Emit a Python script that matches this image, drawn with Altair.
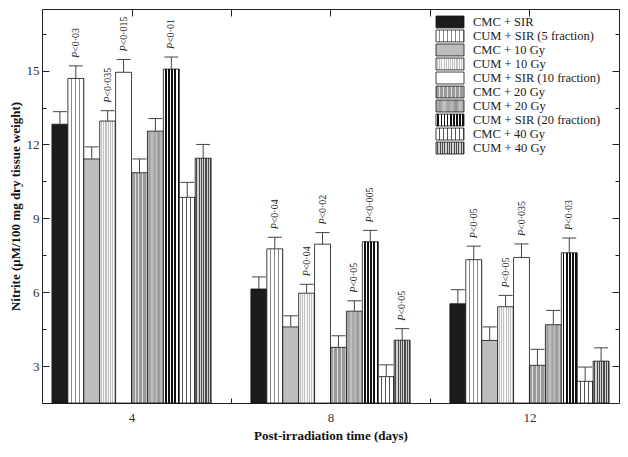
import altair as alt
import pandas as pd

SERIF = "Liberation Serif"

series = ["CMC + SIR", "CUM + SIR (5 fraction)", "CMC + 10 Gy", "CUM + 10 Gy",
          "CUM + SIR (10 fraction)", "CMC + 20 Gy", "CUM + 20 Gy",
          "CUM + SIR (20 fraction)", "CMC + 40 Gy", "CUM + 40 Gy"]
days = [4, 8, 12]

mean_d4 = [12.82, 14.68, 11.41, 12.95, 14.93, 10.85, 12.54, 15.06, 9.85, 11.44]
mean_d8 = [6.13, 7.76, 4.59, 5.96, 7.95, 3.76, 5.23, 8.05, 2.57, 4.05]
mean_d12 = [5.53, 7.32, 4.04, 5.41, 7.41, 3.03, 4.68, 7.60, 2.38, 3.20]

err_d4 = [0.51, 0.51, 0.49, 0.42, 0.52, 0.56, 0.51, 0.49, 0.61, 0.56]
err_d8 = [0.49, 0.47, 0.45, 0.36, 0.47, 0.47, 0.42, 0.46, 0.48, 0.47]
err_d12 = [0.57, 0.55, 0.55, 0.46, 0.55, 0.65, 0.58, 0.60, 0.58, 0.54]

p_d4 = ["", "<0·03", "", "<0·035", "<0·015", "", "", "<0·01", "", ""]
p_d8 = ["", "<0·04", "", "<0·04", "<0·02", "", "<0·05", "<0·005", "", "<0·05"]
p_d12 = ["", "<0·05", "", "<0·05", "<0·035", "", "", "<0·03", "", ""]

y_ticks = [3, 6, 9, 12, 15]
x_ticks = [4, 8, 12]

rows = []
for d, means, errs, ps in [(4, mean_d4, err_d4, p_d4), (8, mean_d8, err_d8, p_d8),
                           (12, mean_d12, err_d12, p_d12)]:
    for i, s in enumerate(series):
        rows.append({"day": d, "series": s, "idx": i, "mean": means[i],
                     "err": errs[i], "p": ps[i]})
df = pd.DataFrame(rows)
leg = pd.DataFrame({"series": series, "idx": list(range(len(series)))})

W, H = 577, 394
BAR_W = 0.32
XDOM = [2.2, 13.8]
YDOM = [1.5, 17.5]


def stripes(bg, fg, width, period, frac):
    n = max(1, round(width / period))
    stops = []
    for k in range(n):
        a = round(k / n, 4)
        b = round((k + 1 - frac) / n, 4)
        c = round((k + 1) / n, 4)
        stops += [{"offset": a, "color": bg}, {"offset": b, "color": bg},
                  {"offset": b, "color": fg}, {"offset": c, "color": fg}]
    return {"gradient": "linear", "x1": 0, "y1": 0, "x2": 1, "y2": 0, "stops": stops}


def mottle():
    tones = ["#bdbdbd", "#9a9a9a", "#c8c8c8", "#a0a0a0", "#bcbcbc",
             "#8f8f8f", "#c4c4c4", "#a6a6a6"]
    stops = [{"offset": round(k / (len(tones) - 1), 4), "color": t}
             for k, t in enumerate(tones)]
    return {"gradient": "linear", "x1": 0, "y1": 0, "x2": 1, "y2": 0, "stops": stops}


def fill_for(i, w):
    if i == 0:
        return "#1c1c1c"
    if i == 1:
        return stripes("#ffffff", "#8a8a8a", w, 4, 0.28)
    if i == 2:
        return "#bdbdbd"
    if i == 3:
        return stripes("#f6f6f6", "#c2c2c2", w, 2.2, 0.5)
    if i == 4:
        return "#ffffff"
    if i == 5:
        return stripes("#9a9a9a", "#dedede", w, 4, 0.25)
    if i == 6:
        return mottle()
    if i == 7:
        return stripes("#ffffff", "#111111", w, 3.2, 0.55)
    if i == 8:
        return stripes("#ffffff", "#555555", w, 4, 0.22)
    return stripes("#d0d0d0", "#4a4a4a", w, 2.4, 0.5)


def fill_cond(w):
    return {"condition": [{"test": f"datum.idx === {i}", "value": fill_for(i, w)}
                          for i in range(len(series))],
            "value": "#ffffff"}


xs = alt.Scale(domain=XDOM, nice=False, zero=False)
ys = alt.Scale(domain=YDOM, nice=False, zero=False)
tick_cond = {"condition": {"test": "datum.value % 3 === 0", "value": 7}, "value": 4}
minor_vals = [3, 4.5, 6, 7.5, 9, 10.5, 12, 13.5, 15, 16.5]

base = alt.Chart(df).transform_calculate(
    x0=f"datum.day + (datum.idx - 5) * {BAR_W}",
    x1=f"datum.day + (datum.idx - 4) * {BAR_W}",
    xc=f"datum.day + (datum.idx - 4.5) * {BAR_W}",
    cl=f"datum.day + (datum.idx - 4.5) * {BAR_W} - {BAR_W * 0.44}",
    cr=f"datum.day + (datum.idx - 4.5) * {BAR_W} + {BAR_W * 0.44}",
    top="datum.mean + datum.err",
)

bars = base.mark_rect(stroke="#111111", strokeWidth=0.8).encode(
    x=alt.X("x0:Q", scale=xs, axis=alt.Axis(
        values=x_ticks, format="d", title="Post-irradiation time (days)",
        ticks=False, domain=False, grid=False, labelFont=SERIF, labelFontSize=13,
        labelColor="#333333", labelPadding=8, titleFont=SERIF, titleFontSize=13,
        titleFontWeight="bold", titleColor="#111111", titlePadding=5)),
    x2="x1:Q",
    y=alt.Y("mean:Q", scale=ys, axis=alt.Axis(
        values=y_ticks, title="Nitrite (μM/100 mg dry tissue weight)",
        ticks=False, domain=False, grid=False, labelFont=SERIF, labelFontSize=13,
        labelColor="#333333", labelPadding=3, titleFont=SERIF, titleFontSize=13,
        titleFontWeight="bold", titleColor="#111111", titlePadding=4)),
    y2=alt.datum(YDOM[0]),
    fill=fill_cond(16),
)

errs = base.mark_rule(color="#444444", strokeWidth=1).encode(
    x=alt.X("xc:Q", scale=xs, axis=alt.Axis(
        orient="top", offset=-H, values=[4, 6, 8, 10, 12], labels=False,
        domain=False, grid=False, title=None, tickSize=5, tickColor="#222222")),
    y=alt.Y("mean:Q", scale=ys, axis=alt.Axis(
        orient="right", offset=-W, values=minor_vals, labels=False, domain=False,
        grid=False, title=None, tickSize=tick_cond, tickColor="#222222")),
    y2="top:Q",
)

caps = base.mark_rule(color="#444444", strokeWidth=1).encode(
    x=alt.X("cl:Q", scale=xs, axis=alt.Axis(
        orient="bottom", offset=-H, values=[4, 6, 8, 10, 12], labels=False,
        domain=False, grid=False, title=None, tickSize=7, tickColor="#222222")),
    x2="cr:Q",
    y=alt.Y("top:Q", scale=ys, axis=alt.Axis(
        orient="left", offset=-W, values=minor_vals, labels=False, domain=False,
        grid=False, title=None, tickSize=tick_cond, tickColor="#222222")),
)

plab = base.transform_filter("datum.p != ''")
p_italic = plab.mark_text(text="P", angle=270, align="left", baseline="middle",
                          dx=8, font=SERIF, fontSize=10, fontStyle="italic",
                          color="#222222").encode(
    x=alt.X("xc:Q", scale=xs, axis=None),
    y=alt.Y("top:Q", scale=ys, axis=None),
)
p_rest = plab.mark_text(angle=270, align="left", baseline="middle", dx=14,
                        font=SERIF, fontSize=10, color="#222222").encode(
    x=alt.X("xc:Q", scale=xs, axis=None),
    y=alt.Y("top:Q", scale=ys, axis=None),
    text="p:N",
)

ls = alt.Scale(type="band", domain=series, range=[7, 145], paddingInner=0.15,
               paddingOuter=0)
leg_rect = alt.Chart(leg).mark_rect(stroke="#111111", strokeWidth=0.8).encode(
    x=alt.value(394), x2=alt.value(422),
    y=alt.Y("series:N", scale=ls, axis=None),
    fill=fill_cond(28),
)
leg_text = alt.Chart(leg).mark_text(align="left", baseline="middle", font=SERIF,
                                    fontSize=12.5, color="#222222").encode(
    x=alt.value(431),
    y=alt.Y("series:N", scale=ls, axis=None),
    text="series:N",
)

chart = alt.layer(bars, errs, caps, p_italic, p_rest, leg_rect, leg_text).resolve_scale(
    x="independent", y="independent"
).properties(
    width=W, height=H,
    autosize=alt.AutoSizeParams(type="none"),
    padding={"left": 34, "top": 1, "right": 1, "bottom": 46},
).configure_view(stroke="#222222", strokeWidth=1)

chart.save("out.html", embed_options={"renderer": "svg", "actions": False})
